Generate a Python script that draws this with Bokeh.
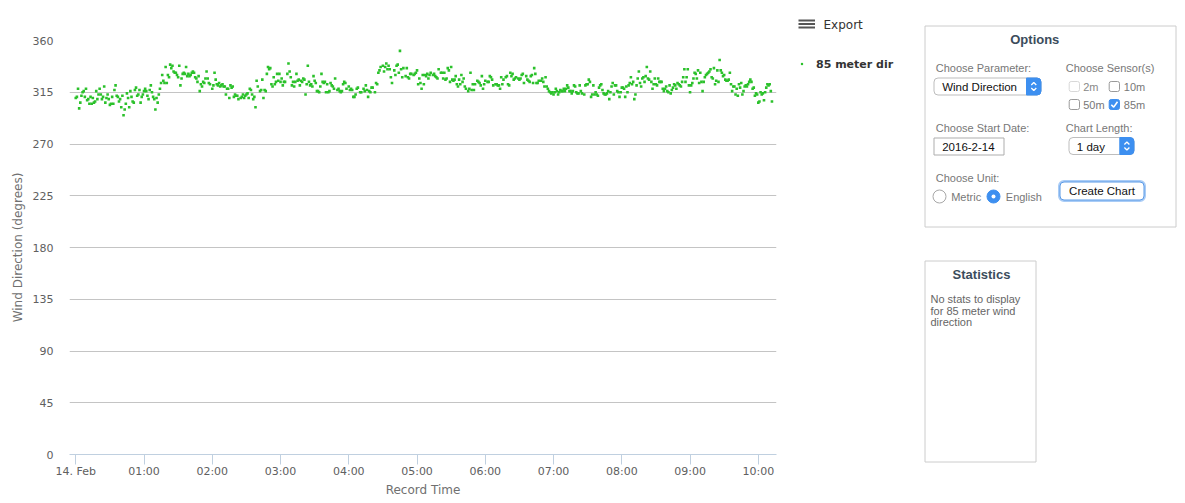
from bokeh.plotting import figure
from bokeh.layouts import row
from bokeh.models import Range1d, FixedTicker, ColumnDataSource
from bokeh.embed import file_html
from bokeh.resources import INLINE
from bokeh.core.properties import value

# ---------------- data ----------------
SERIES_NAME = "85 meter dir"
Y_TITLE = "Wind Direction (degrees)"
X_TITLE = "Record Time"
Y_TICKS = [0, 45, 90, 135, 180, 225, 270, 315, 360]
X_TICKS = [0, 60, 120, 180, 240, 300, 360, 420, 480, 540, 600]  # minutes after 2016-02-14 00:00
X_LABELS = ["14. Feb", "01:00", "02:00", "03:00", "04:00", "05:00",
            "06:00", "07:00", "08:00", "09:00", "10:00"]

# observation times (minutes after midnight, 1-minute records with a few gaps)
MINUTES = [*range(0, 119),
           *range(120, 144), *range(145, 161), *range(162, 185), *range(186, 229),
           *range(230, 239), *range(240, 245),
           *range(245, 249), 250, 251, *range(253, 262), *range(263, 269), *range(270, 279),
           *range(280, 289), *range(290, 296), *range(297, 313), *range(314, 320),
           *range(321, 344), *range(345, 352), *range(353, 361), *range(362, 368), 369,
           *range(370, 377), *range(378, 388), *range(389, 395), *range(396, 408),
           *range(409, 446), *range(447, 495),
           *range(495, 613)]

DIRECTION = [
    # 00:00 - 02:00
    310, 311, 318, 301, 306, 312, 315, 316, 311, 318,
    308, 309, 305, 311, 305, 310, 306, 307, 316, 309,
    313, 318, 313, 309, 311, 320, 306, 310, 313, 309,
    304, 305, 311, 305, 317, 321, 312, 311, 307, 309,
    302, 312, 295, 300, 305, 314, 310, 302, 316, 311,
    307, 306, 317, 319, 312, 313, 317, 306, 311, 313,
    316, 318, 316, 312, 309, 317, 321, 315, 311, 309,
    300, 310, 306, 313, 318, 323, 330, 325, 323, 337,
    323, 330, 328, 339, 336, 338, 333, 332, 332, 330,
    328, 338, 321, 327, 331, 332, 331, 337, 329, 331,
    329, 330, 332, 333, 332, 328, 327, 324, 329, 316,
    322, 320, 324, 323, 327, 333, 327, 323, 322,
    # 02:00 - 04:05
    318, 321, 332, 326, 322, 321, 323, 320, 321, 322,
    320, 320, 313, 318, 318, 310, 321, 319, 320, 311,
    313, 312, 312, 309, 310, 311, 313, 310, 312, 313,
    314, 310, 318, 317, 313, 309, 311, 302, 325, 320,
    316, 317, 326, 310, 317, 316, 331, 337, 335, 336,
    322, 320, 328, 322, 324, 331, 325, 331, 324, 327,
    321, 324, 324, 331, 340, 333, 328, 321, 324, 320,
    324, 331, 325, 326, 321, 325, 324, 327, 326, 313,
    322, 338, 324, 321, 322, 320, 329, 325, 323, 316,
    316, 315, 320, 331, 324, 323, 324, 315, 322, 315,
    316, 323, 321, 320, 318, 327, 317, 318, 316, 315,
    316, 322, 324, 323, 318, 320, 317, 318, 317, 311,
    # 04:05 - 06:10
    311, 313, 318, 319, 315, 315, 318, 316, 321, 317,
    311, 316, 315, 319, 319, 315, 323, 322, 332, 334,
    337, 338, 333, 337, 340, 335, 338, 335, 328, 323,
    334, 330, 338, 339, 332, 351, 335, 328, 336, 329,
    336, 328, 327, 331, 331, 330, 331, 332, 334, 322,
    327, 323, 318, 330, 322, 330, 329, 331, 327, 330,
    332, 330, 331, 329, 328, 327, 335, 332, 332, 327,
    332, 326, 327, 336, 334, 324, 337, 326, 325, 326,
    329, 322, 320, 326, 322, 330, 324, 327, 320, 318,
    316, 318, 332, 317, 322, 317, 322, 325, 324, 323,
    321, 329, 318, 322, 325, 324, 324, 329, 328, 326,
    321, 322,
    # 06:10 - 08:15
    322, 321, 321, 318, 328, 322, 326, 328, 329, 322,
    321, 332, 329, 331, 326, 327, 328, 327, 326, 327,
    330, 331, 323, 329, 326, 325, 324, 329, 330, 323,
    336, 331, 323, 323, 325, 325, 327, 324, 320, 328,
    320, 318, 316, 315, 314, 315, 313, 315, 318, 316,
    313, 315, 317, 316, 316, 318, 316, 318, 321, 319,
    316, 316, 314, 316, 321, 320, 315, 314, 314, 321,
    316, 314, 313, 321, 322, 322, 326, 324, 311, 313,
    321, 313, 315, 313, 312, 319, 321, 322, 317, 314,
    313, 313, 314, 316, 309, 315, 320, 323, 313, 321,
    321, 316, 315, 311, 315, 319, 319, 318, 311, 320,
    315, 321, 323, 328, 322, 324, 309, 313, 321, 327,
    # 08:15 - 10:12
    333, 323, 320, 327, 328, 324, 329, 337, 327,
    326, 333, 324, 318, 322, 327, 322, 321, 327, 324,
    324, 324, 318, 316, 318, 320, 316, 315, 321, 314,
    317, 319, 322, 321, 318, 323, 322, 321, 320,
    324, 328, 335, 324, 328, 335, 321, 315, 321, 323,
    327, 332, 331, 327, 334, 323, 332, 324, 316, 324,
    328, 330, 331, 332, 333, 335, 328, 327, 336, 322,
    325, 334, 324, 343, 334, 332, 329, 330, 326, 325,
    325, 326, 332, 322, 316, 320, 320, 313, 318,
    312, 322, 319, 323, 313, 316, 320, 321, 320, 322,
    324, 326, 324, 318, 319, 312, 314, 313, 306, 307,
    315, 313, 314, 308, 315, 319, 322, 321, 322, 316,
    307,
]
assert len(MINUTES) == len(DIRECTION), (len(MINUTES), len(DIRECTION))

GREEN = "#2bc12b"
AXIS_FONT = "DejaVu Sans"
UI_FONT = "Liberation Sans"
H = 502

# ---------------- chart ----------------
src = ColumnDataSource(dict(minute=MINUTES, direction=DIRECTION))

p = figure(width=798, height=H, output_backend="svg", toolbar_location=None,
           x_range=Range1d(-5.5, 616), y_range=Range1d(0, 360),
           min_border_left=69, min_border_right=22, min_border_top=40,
           min_border_bottom=H - 454)
p.frame_align = False
p.outline_line_color = None
p.background_fill_color = "white"
p.border_fill_color = "white"

p.xgrid.grid_line_color = None
p.ygrid.grid_line_color = "#c4c4c4"
p.ygrid.grid_line_width = 1

p.yaxis.ticker = FixedTicker(ticks=Y_TICKS)
p.yaxis.axis_line_color = None
p.yaxis.major_tick_line_color = None
p.yaxis.minor_tick_line_color = None
p.yaxis.major_tick_out = 0
p.yaxis.major_tick_in = 0
p.yaxis.major_label_standoff = 16
p.yaxis.major_label_text_font = AXIS_FONT
p.yaxis.major_label_text_font_size = "11px"
p.yaxis.major_label_text_color = "#606060"
p.yaxis.axis_label = Y_TITLE
p.yaxis.axis_label_text_font = AXIS_FONT
p.yaxis.axis_label_text_font_size = "12px"
p.yaxis.axis_label_text_font_style = "normal"
p.yaxis.axis_label_text_color = "#707070"
p.yaxis.axis_label_standoff = 5

p.xaxis.ticker = FixedTicker(ticks=X_TICKS)
p.xaxis.major_label_overrides = dict(zip(X_TICKS, X_LABELS))
p.xaxis.axis_line_color = "#c0d0e0"
p.xaxis.major_tick_line_color = "#c0d0e0"
p.xaxis.minor_tick_line_color = None
p.xaxis.major_tick_out = 10
p.xaxis.major_tick_in = 0
p.xaxis.major_label_standoff = 0
p.xaxis.major_label_text_font = AXIS_FONT
p.xaxis.major_label_text_font_size = "11px"
p.xaxis.major_label_text_color = "#606060"
p.xaxis.axis_label = X_TITLE
p.xaxis.axis_label_text_font = AXIS_FONT
p.xaxis.axis_label_text_font_size = "12px"
p.xaxis.axis_label_text_font_style = "normal"
p.xaxis.axis_label_text_color = "#707070"
p.xaxis.axis_label_standoff = 2

p.scatter("minute", "direction", source=src, marker="square", size=2.6,
          fill_color=GREEN, line_color=None)

# ---------------- side panel (legend, export, options, statistics) ----------------
s = figure(width=1185 - 798, height=H, output_backend="svg", toolbar_location=None,
           x_range=Range1d(798, 1185), y_range=Range1d(H, 0),
           x_axis_location=None, y_axis_location=None,
           min_border_left=0, min_border_right=0, min_border_top=0, min_border_bottom=0)
s.frame_align = False
s.grid.visible = False
s.outline_line_color = None
s.background_fill_color = "white"
s.border_fill_color = "white"


def txt(x, y, t, size="11px", color="#777777", font=UI_FONT, style="normal", align="left"):
    s.text(x=[x], y=[y], text=[t], text_font=value(font), text_font_size=size,
           text_color=color, text_font_style=style, text_align=align, text_baseline="middle")


def chevrons(cx, cy):
    s.multi_line(xs=[[cx - 2.5, cx, cx + 2.5], [cx - 2.5, cx, cx + 2.5]],
                 ys=[[cy - 1.5, cy - 4, cy - 1.5], [cy + 1.5, cy + 4, cy + 1.5]],
                 line_color="white", line_width=1.3)


BLUE = "#3d8ff0"

# export menu
s.segment(x0=[797.5] * 3, x1=[814.5] * 3, y0=[20, 23.5, 27], y1=[20, 23.5, 27],
          line_color="#555555", line_width=2)
txt(823, 24, "Export", "12px", "#333333", AXIS_FONT)

# legend
s.scatter([801.5], [63.5], marker="circle", size=2.5, fill_color=GREEN, line_color=None)
txt(815.5, 63.5, SERIES_NAME, "11px", "#333333", AXIS_FONT, "bold")

# options box
s.quad(left=[924.5], right=[1175.5], top=[25.5], bottom=[226.5],
       fill_color="white", line_color="#cccccc")
txt(1034.3, 38.5, "Options", "13px", "#3b4c5c", UI_FONT, "bold", "center")
txt(935.3, 67.5, "Choose Parameter:")
txt(1065.3, 67.5, "Choose Sensor(s)")
txt(935.3, 127.5, "Choose Start Date:")
txt(1065.3, 127.5, "Chart Length:")
txt(935.3, 177.5, "Choose Unit:")

# parameter select
s.quad(left=[933.5], right=[1040.5], top=[77.5], bottom=[94.5], fill_color="white",
       line_color="#bdbdbd", border_radius=4)
s.quad(left=[1026], right=[1040.5], top=[77.5], bottom=[94.5], fill_color=BLUE,
       line_color=BLUE, border_radius=(0, 4, 4, 0))
txt(941.7, 86, "Wind Direction", "11.5px", "#111111")
chevrons(1033.3, 86)

# sensors
s.quad(left=[1068.7], right=[1079], top=[81], bottom=[91], fill_color="white",
       line_color="#d8d8d8", border_radius=2)
s.quad(left=[1108.7, 1068.7], right=[1119, 1079], top=[81, 99], bottom=[91, 109],
       fill_color="white", line_color="#9a9a9a", border_radius=2)
s.quad(left=[1108.7], right=[1119], top=[99], bottom=[109], fill_color=BLUE,
       line_color=BLUE, border_radius=2)
s.line(x=[1110.8, 1113.2, 1117], y=[104.2, 106.6, 101.2], line_color="white", line_width=1.6)
txt(1082.7, 86.5, "2m", "11px", "#888888")
txt(1123.3, 86.5, "10m", "11px", "#777777")
txt(1082.7, 104.5, "50m", "11px", "#777777")
txt(1123.3, 104.5, "85m", "11px", "#777777")

# start date input
s.quad(left=[933.5], right=[1003.5], top=[137.5], bottom=[154.5], fill_color="white",
       line_color="#adadad")
txt(941.7, 146.5, "2016-2-14", "11.5px", "#111111")

# chart length select
s.quad(left=[1068.5], right=[1133.5], top=[137], bottom=[154], fill_color="white",
       line_color="#bdbdbd", border_radius=4)
s.quad(left=[1119.3], right=[1133.5], top=[137], bottom=[154], fill_color=BLUE,
       line_color=BLUE, border_radius=(0, 4, 4, 0))
txt(1076.3, 146, "1 day", "11.5px", "#111111")
chevrons(1126.4, 145.5)

# unit radios
s.scatter([939], [196], marker="circle", size=13, fill_color="white", line_color="#a8a8a8")
s.scatter([993], [196], marker="circle", size=13, fill_color=BLUE, line_color=BLUE)
s.scatter([993], [196], marker="circle", size=4, fill_color="white", line_color=None)
txt(950.7, 196.5, "Metric")
txt(1005.3, 196.5, "English")

# create chart button
s.quad(left=[1059.5], right=[1143.5], top=[181.5], bottom=[199.5], fill_color="white",
       line_color="#a9ccf6", line_width=4, border_radius=4)
s.quad(left=[1059.5], right=[1143.5], top=[181.5], bottom=[199.5], fill_color="white",
       line_color="#5b9ae6", line_width=1, border_radius=4)
txt(1101.5, 190.5, "Create Chart", "11.5px", "#111111", UI_FONT, "normal", "center")

# statistics box
s.quad(left=[924.5], right=[1035.5], top=[260.5], bottom=[461.5],
       fill_color="white", line_color="#cccccc")
txt(981, 273.5, "Statistics", "13px", "#3b4c5c", UI_FONT, "bold", "center")
txt(930, 298, "No stats to display", "11px", "#666666")
txt(930, 310, "for 85 meter wind", "11px", "#666666")
txt(930, 321.5, "direction", "11px", "#666666")

layout = row(p, s)
open("out.html", "w").write(file_html(layout, INLINE))
